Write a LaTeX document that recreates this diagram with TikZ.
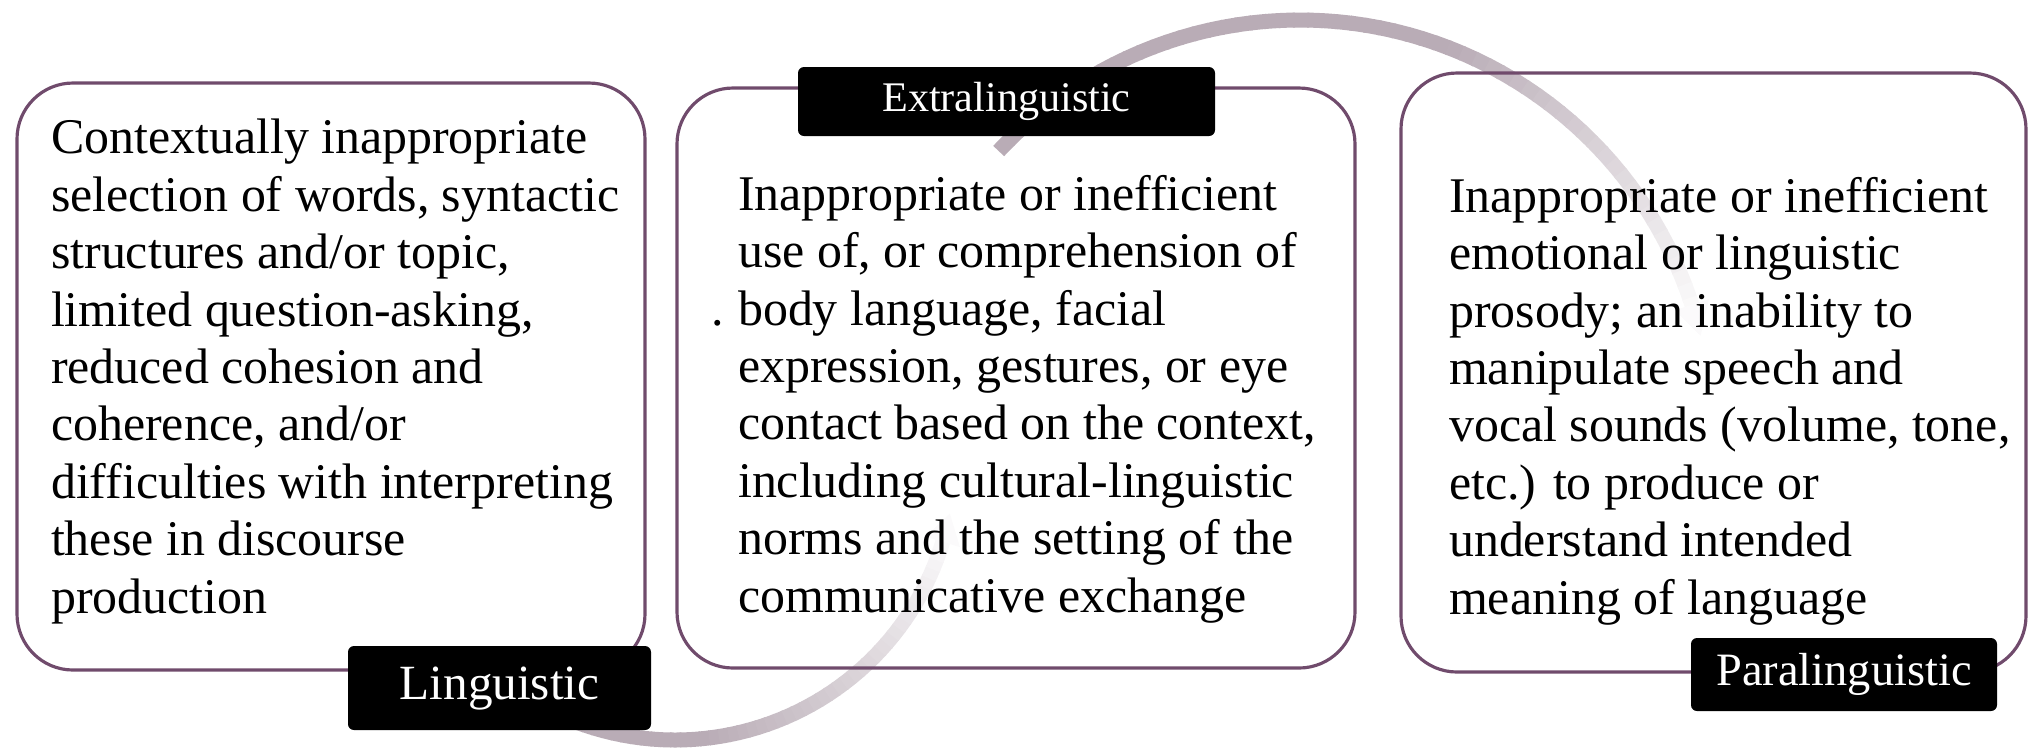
\documentclass[tikz,border=0pt]{standalone}
\usepackage{fontspec}
\setmainfont{Liberation Serif}
\definecolor{boxline}{RGB}{112,75,108}
\definecolor{arcgrey}{RGB}{185,172,182}

\begin{document}
\begin{tikzpicture}[
    textbox/.style={draw=boxline, line width=0.9pt, rounded corners=0.56cm, inner sep=0},
    body/.style={anchor=west, align=left, inner sep=0, font=\fontsize{14.2}{16.33}\selectfont},
    tag/.style={fill=black, text=white, rounded corners=0.06cm, inner sep=0}
  ]
  \useasboundingbox (0,0) rectangle (20.34,-7.52);

  % the two circular arrows, drawn first so that they stay behind
  \coordinate (topc) at (13.00,-4.32);
  \coordinate (botc) at (6.75,-4.60);
  \foreach \i in {0,...,59}{
    \pgfmathsetmacro\a{137-2*\i}
    \pgfmathsetmacro\p{\a>70 ? 100 : 6+94*(\a-18)/52}
    \draw[arcgrey!\p!white, line width=0.15cm] (topc) ++(\a:4.12) arc[start angle=\a, end angle=\a-2.3, radius=4.12];
  }
  \fill[arcgrey!6!white] ([shift={(18:4.30)}]topc) -- ([shift={(13.5:4.12)}]topc) -- ([shift={(18:3.94)}]topc) -- cycle;
  \foreach \i in {0,...,53}{
    \pgfmathsetmacro\a{-125+2*\i}
    \pgfmathsetmacro\p{\a<-85 ? 100 : 6+94*(-17-\a)/68}
    \draw[arcgrey!\p!white, line width=0.15cm] (botc) ++(\a:2.80) arc[start angle=\a, end angle=\a+2.3, radius=2.80];
  }
  \fill[arcgrey!6!white] ([shift={(-17:2.98)}]botc) -- ([shift={(-11:2.80)}]botc) -- ([shift={(-17:2.62)}]botc) -- cycle;

  % boxes
  \node[textbox, minimum width=6.28cm, minimum height=5.87cm] (lingbox) at (3.31,-3.765) {};
  \node[textbox, minimum width=6.78cm, minimum height=5.80cm] (extrabox) at (10.16,-3.78) {};
  \node[textbox, minimum width=6.25cm, minimum height=5.99cm] (parabox) at (17.135,-3.725) {};

  \node[body] (lingtext) at ([xshift=0.35cm, yshift=0.05cm]lingbox.west) {Contextually inappropriate\\
    selection of words, syntactic\\
    structures and/or topic,\\
    limited question-asking,\\
    reduced cohesion and\\
    coherence, and/or\\
    difficulties with interpreting\\
    these in discourse\\
    production};
  \node[body] (extratext) at ([xshift=0.62cm, yshift=-0.21cm]extrabox.west) {Inappropriate or inefficient\\
    use of, or comprehension of\\
    body language, facial\\
    expression, gestures, or eye\\
    contact based on the context,\\
    including cultural-linguistic\\
    norms and the setting of the\\
    communicative exchange};
  \node[body] (paratext) at ([xshift=0.49cm, yshift=-0.285cm]parabox.west) {Inappropriate or inefficient\\
    emotional or linguistic\\
    prosody; an inability to\\
    manipulate speech and\\
    vocal sounds (volume, tone,\\
    etc.) to produce or\\
    understand intended\\
    meaning of language};
  \node[inner sep=0, font=\fontsize{14.2}{16.33}\selectfont] (dot) at (7.18,-3.23) {.};

  % labels
  \node[tag, minimum width=3.03cm, minimum height=0.84cm, font=\fontsize{14}{16}\selectfont] (ling) at (4.995,-6.88) {Linguistic};
  \node[tag, minimum width=4.17cm, minimum height=0.69cm, font=\fontsize{12}{14}\selectfont] (extra) at (10.065,-1.015) {Extralinguistic};
  \node[tag, minimum width=3.06cm, minimum height=0.73cm, font=\fontsize{13.2}{15}\selectfont] (para) at (18.44,-6.745) {Paralinguistic};
\end{tikzpicture}
\end{document}
